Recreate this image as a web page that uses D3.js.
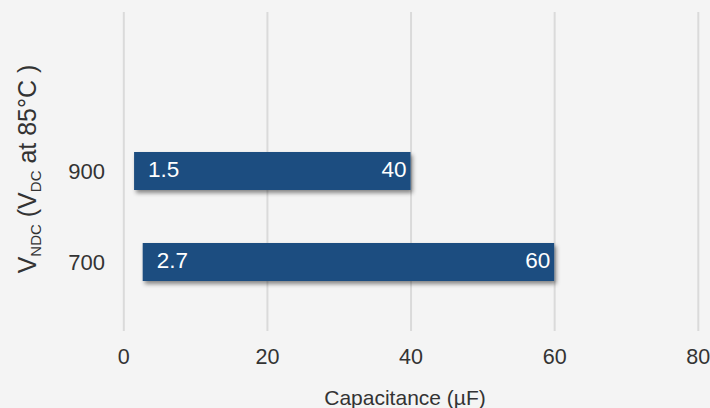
<!DOCTYPE html>
<html>
<head>
<meta charset="utf-8">
<script src="https://cdn.jsdelivr.net/npm/d3@7"></script>
<style>
  html, body { margin: 0; padding: 0; background: #f4f4f4; }
  svg { display: block; font-family: Arial, "Liberation Sans", sans-serif; }
</style>
</head>
<body>
<svg id="chart" width="710" height="408"></svg>
<script>
const categories = ["900", "700"];
const minValues = [1.5, 2.7];
const maxValues = [40, 60];
const xTicks = [0, 20, 40, 60, 80];
const xTitle = "Capacitance (µF)";

const svg = d3.select("#chart");
svg.append("rect").attr("width", 710).attr("height", 408).attr("fill", "#f4f4f4");

const defs = svg.append("defs");
const f = defs.append("filter").attr("id", "shadow")
  .attr("x", "-10%").attr("y", "-30%").attr("width", "130%").attr("height", "180%");
f.append("feDropShadow").attr("dx", 2).attr("dy", 3).attr("stdDeviation", 2.2)
  .attr("flood-color", "#000").attr("flood-opacity", 0.45);

const x = d3.scaleLinear().domain([0, 80]).range([123.3, 697.8]);
const y = d3.scalePoint().domain(categories).range([171, 262]);
const barH = 38;
const plotTop = 12, plotBottom = 331;
const textColor = "#333333";

// gridlines + x tick labels
const gx = svg.append("g").attr("class", "x-axis")
  .attr("transform", `translate(0,${plotBottom})`)
  .call(d3.axisBottom(x).tickValues(xTicks).tickSize(-(plotBottom - plotTop)));
gx.select(".domain").remove();
gx.selectAll(".tick line").attr("stroke", "#dadada").attr("stroke-width", 2);
gx.selectAll(".tick text").attr("font-size", 21.5).attr("fill", textColor)
  .attr("dy", null).attr("y", 32.5);

// y axis labels
const gy = svg.append("g").attr("class", "y-axis")
  .attr("transform", `translate(105,0)`)
  .call(d3.axisLeft(y).tickSize(0).tickPadding(0));
gy.select(".domain").remove();
gy.selectAll(".tick text").attr("font-size", 22).attr("fill", textColor)
  .attr("dy", "0.36em");

const data = categories.map((c, i) => ({ c, lo: minValues[i], hi: maxValues[i] }));

svg.append("g").selectAll("rect").data(data).join("rect")
  .attr("x", d => x(d.lo))
  .attr("y", d => y(d.c) - barH / 2)
  .attr("width", d => x(d.hi) - x(d.lo))
  .attr("height", barH)
  .attr("fill", "#1f4e80")
  .attr("filter", "url(#shadow)");

svg.append("g").selectAll("text.lo").data(data).join("text")
  .attr("class", "lo")
  .attr("x", d => x(d.lo) + 14)
  .attr("y", d => y(d.c) + 5.8)
  .attr("font-size", 22.5).attr("fill", "#ffffff")
  .text(d => d.lo);

svg.append("g").selectAll("text.hi").data(data).join("text")
  .attr("class", "hi")
  .attr("x", d => x(d.hi) - 4)
  .attr("y", d => y(d.c) + 5.8)
  .attr("text-anchor", "end")
  .attr("font-size", 22.5).attr("fill", "#ffffff")
  .text(d => d.hi);

// x title
svg.append("text")
  .attr("x", 405).attr("y", 405)
  .attr("text-anchor", "middle")
  .attr("font-size", 21).attr("fill", textColor)
  .text(xTitle);

// y title
const yt = svg.append("text")
  .attr("transform", "translate(35.5,169) rotate(-90)")
  .attr("text-anchor", "middle")
  .attr("font-size", 25).attr("fill", textColor);
yt.append("tspan").text("V");
yt.append("tspan").attr("font-size", 15).attr("dy", 5).text("NDC");
yt.append("tspan").attr("dy", -5).text(" (V");
yt.append("tspan").attr("font-size", 15).attr("dy", 5).text("DC");
yt.append("tspan").attr("dy", -5).text(" at 85°C )");
</script>
</body>
</html>
